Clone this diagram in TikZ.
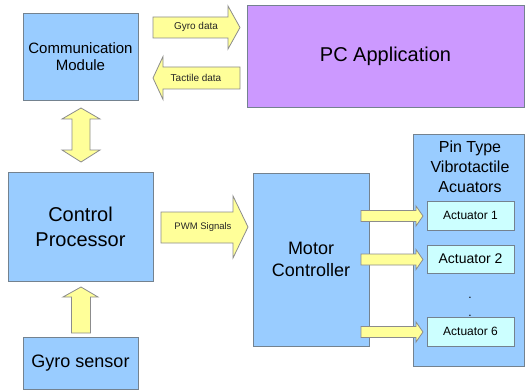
\documentclass[tikz,border=0pt]{standalone}
\usepackage{fontspec}
\setmainfont{Liberation Sans}
\definecolor{boxblue}{HTML}{99CCFF}
\definecolor{boxline}{HTML}{74828F}
\definecolor{arrowyellow}{HTML}{FFFF99}
\definecolor{arrowline}{HTML}{8C8C8C}
\definecolor{pcpurple}{HTML}{CC99FF}
\definecolor{actcyan}{HTML}{CCFFFF}
\begin{document}
\begin{tikzpicture}[x=1pt,y=-1pt,
  bluebox/.style={draw=boxline,fill=boxblue,line width=0.9pt,inner sep=0pt,align=center},
  blockarrow/.style={draw=arrowline,fill=arrowyellow,line width=0.8pt,line join=miter},
  arrowtext/.style={inner sep=0pt,font=\fontsize{10}{12}\selectfont,text=black!85},
  dotnode/.style={inner sep=0pt,font=\fontsize{12}{12}\selectfont}]
\useasboundingbox (0,0) rectangle (526,390);
% boxes
\node[bluebox,minimum width=115pt,minimum height=87pt,font=\fontsize{15}{17}\selectfont] (comm) at (80.5,56.5) {Communication\\Module};
\node[draw=boxline,fill=pcpurple,line width=0.9pt,inner sep=0pt,minimum width=277pt,minimum height=102pt,font=\fontsize{20}{24}\selectfont] (pc) at (385.5,56) {PC Application};
\node[bluebox,minimum width=145pt,minimum height=109pt,font=\fontsize{20}{25}\selectfont] (cp) at (80.5,226.5) {Control\\Processor};
\node[bluebox,minimum width=115pt,minimum height=52pt,font=\fontsize{18}{22}\selectfont] (gyro) at (80.5,363) {Gyro sensor};
\node[bluebox,minimum width=116pt,minimum height=173pt,font=\fontsize{18}{22}\selectfont] (mc) at (311,259.5) {Motor\\Controller};
\node[bluebox,minimum width=111pt,minimum height=232pt] (pin) at (468.5,250) {};
\node[inner sep=0pt,align=center,anchor=north,font=\fontsize{16}{20}\selectfont] (pintitle) at (470,141) {Pin Type\\Vibrotactile\\Acuators};
\node[draw=boxline,fill=actcyan,line width=0.9pt,inner sep=0pt,minimum width=87pt,minimum height=29pt,font=\fontsize{12}{14}\selectfont] (a1) at (470.5,215.5) {Actuator 1};
\node[draw=boxline,fill=actcyan,line width=0.9pt,inner sep=0pt,minimum width=87pt,minimum height=28pt,font=\fontsize{14}{16}\selectfont] (a2) at (470.5,259) {Actuator 2};
\node[draw=boxline,fill=actcyan,line width=0.9pt,inner sep=0pt,minimum width=87pt,minimum height=29pt,font=\fontsize{12}{14}\selectfont] (a6) at (470.5,331.5) {Actuator 6};
\node[dotnode] (dot1) at (470,298) {.};
\node[dotnode] (dot2) at (470,316) {.};
% block arrows
\draw[blockarrow] (153,17)--(228,17)--(228,6)--(240,27.5)--(228,49)--(228,38)--(153,38)--cycle;
\node[arrowtext] (gyrodata) at (196,27) {Gyro data};
\draw[blockarrow] (240,67)--(163,67)--(163,56.5)--(153,78)--(163,99.5)--(163,89)--(240,89)--cycle;
\node[arrowtext] (tactdata) at (196,78) {Tactile data};
\draw[blockarrow] (81,108)--(100,119)--(90,119)--(90,150)--(100,150)--(81,162)--(62,150)--(72,150)--(72,119)--(62,119)--cycle;
\draw[blockarrow] (81,287)--(98,297)--(90.5,297)--(90.5,333)--(71.5,333)--(71.5,297)--(63,297)--cycle;
\draw[blockarrow] (161,212)--(233,212)--(233,196)--(248,227)--(233,258)--(233,243)--(161,243)--cycle;
\node[arrowtext,font=\fontsize{9.5}{11}\selectfont] (pwm) at (203,227) {PWM Signals};
\foreach \yc in {216,259.5,332}{
  \draw[blockarrow] (361,\yc-5.5)--(416,\yc-5.5)--(416,\yc-10)--(423,\yc)--(416,\yc+10)--(416,\yc+5.5)--(361,\yc+5.5)--cycle;
}
\end{tikzpicture}
\end{document}
